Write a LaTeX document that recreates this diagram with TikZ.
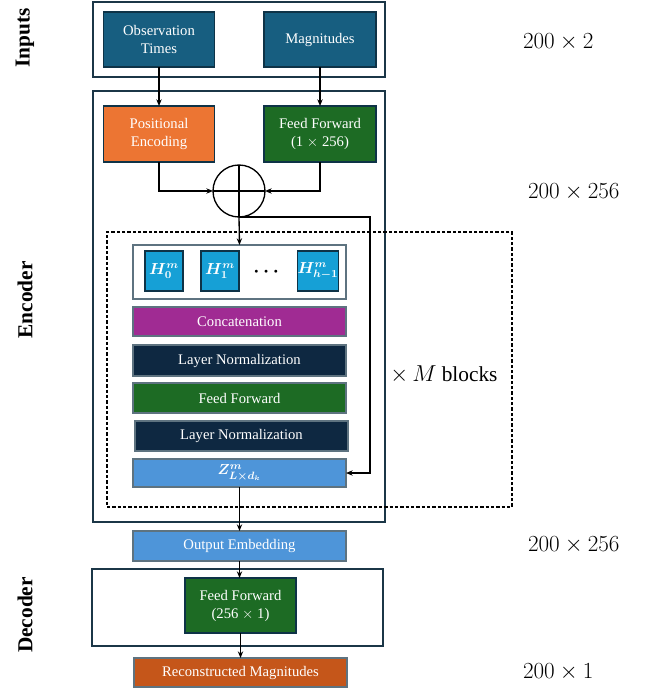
\documentclass[tikz,border=0pt]{standalone}
\usepackage{fontspec}
\setmainfont{Liberation Serif}
\usepackage{amsmath,bm}
\usetikzlibrary{arrows.meta,calc}
\definecolor{inblue}{HTML}{175E80}
\definecolor{inedge}{HTML}{0E3347}
\definecolor{peorange}{HTML}{EC7533}
\definecolor{ffgreen}{HTML}{1D6B24}
\definecolor{concpurple}{HTML}{A02B93}
\definecolor{lnnavy}{HTML}{0E2841}
\definecolor{hblue}{HTML}{16A0D6}
\definecolor{zblue}{HTML}{4E95D9}
\definecolor{recorange}{HTML}{C5561A}
\definecolor{frame}{HTML}{1B3647}
\definecolor{thin}{HTML}{5E7380}
\begin{document}
\begin{tikzpicture}[x=0.75pt,y=-0.75pt,
  every node/.style={inner sep=0pt, outer sep=0pt},
  outer/.style={draw=frame, line width=1.3pt, fill=white},
  blk/.style={draw=inedge, line width=0.8pt, text=white, align=center, font=\fontsize{11}{13.5}\selectfont},
  head/.style={blk, fill=hblue, minimum width=38*0.75pt, minimum height=40*0.75pt, font=\fontsize{11.5}{13}\selectfont},
  lbl/.style={font=\fontsize{16}{18}\selectfont\bfseries, rotate=90},
  dim/.style={font=\fontsize{17}{19}\selectfont, anchor=west},
  arr/.style={draw=black, line width=1pt, -{Stealth[length=5pt,width=4pt]}},
  ln/.style={draw=black, line width=1pt}
]
\useasboundingbox (0,0) rectangle (655,691);

% outer frames
\node[outer, minimum width=292*0.75pt, minimum height=75*0.75pt] (inputs) at (239,39.5) {};
\node[outer, minimum width=292*0.75pt, minimum height=431*0.75pt] (encoder) at (239,306.5) {};
\node[outer, minimum width=291*0.75pt, minimum height=77*0.75pt] (decoder) at (237.5,607.5) {};

% side labels
\node[lbl] (linputs) at (25,38) {Inputs};
\node[lbl] (lencoder) at (25,300) {Encoder};
\node[lbl] (ldecoder) at (25,615) {Decoder};

% input blocks
\node[blk, fill=inblue, minimum width=111*0.75pt, minimum height=55*0.75pt] (obs) at (159,39.5) {Observation\\Times};
\node[blk, fill=inblue, minimum width=112*0.75pt, minimum height=55*0.75pt] (mag) at (320,39.5) {Magnitudes};

% encoder blocks
\node[blk, fill=peorange, minimum width=111*0.75pt, minimum height=56*0.75pt] (pe) at (159,134) {Positional\\Encoding};
\node[blk, fill=ffgreen, minimum width=112*0.75pt, minimum height=56*0.75pt] (ff1) at (320,134) {Feed Forward\\(1 $\times$ 256)};
\node[circle, draw=black, line width=1pt, minimum size=52*0.75pt] (plus) at (239,191) {};
\draw[ln] (plus.north) -- (plus.south);
\draw[ln] (plus.west) -- (plus.east);

% dashed repeat box
\node[draw=black, line width=0.9pt, dash pattern=on 2.5pt off 1.5pt, minimum width=405*0.75pt, minimum height=275*0.75pt] (rep) at (309.5,369.5) {};
\node[font=\fontsize{16}{18}\selectfont] (mlabel) at (444,375) {$\times\, M$ blocks};

% attention heads
\node[draw=thin, line width=0.8pt, fill=white, minimum width=213*0.75pt, minimum height=54*0.75pt] (heads) at (239.5,272) {};
\node[head] (h0) at (164,271) {$\bm{H}^{\bm{m}}_{\bm{0}}$};
\node[head] (h1) at (220,271) {$\bm{H}^{\bm{m}}_{\bm{1}}$};
\node[font=\fontsize{14}{16}\selectfont] (dots) at (268,272) {$\bm{\cdots}$};
\node[head] (hh) at (318,271) {$\bm{H}^{\bm{m}}_{\bm{h-1}}$};

\node[blk, draw=thin, fill=concpurple, minimum width=213*0.75pt, minimum height=29*0.75pt] (concat) at (239.5,321.5) {Concatenation};
\node[blk, draw=thin, fill=lnnavy, minimum width=213*0.75pt, minimum height=31*0.75pt] (ln1) at (239.5,360.5) {Layer Normalization};
\node[blk, draw=thin, fill=ffgreen, minimum width=213*0.75pt, minimum height=30*0.75pt] (ff2) at (239.5,398) {Feed Forward};
\node[blk, draw=thin, fill=lnnavy, minimum width=213*0.75pt, minimum height=30*0.75pt] (ln2) at (241.5,436) {Layer Normalization};
\node[blk, draw=thin, fill=zblue, minimum width=213*0.75pt, minimum height=28*0.75pt, font=\fontsize{11}{13}\selectfont] (z) at (239.5,473) {$\bm{Z}^{\bm{m}}_{\bm{L\times d_k}}$};

% decoder part
\node[blk, draw=thin, fill=zblue, minimum width=213*0.75pt, minimum height=30*0.75pt] (outemb) at (239.5,546) {Output Embedding};
\node[blk, fill=ffgreen, minimum width=111*0.75pt, minimum height=55*0.75pt] (ff3) at (240.5,605.5) {Feed Forward\\(256 $\times$ 1)};
\node[blk, draw=thin, fill=recorange, minimum width=213*0.75pt, minimum height=29*0.75pt] (recon) at (240.5,672.5) {Reconstructed Magnitudes};

% dimension labels
\node[dim] (d1) at (523,42) {$200 \times 2$};
\node[dim] (d2) at (528,192) {$200 \times 256$};
\node[dim] (d3) at (528,545) {$200 \times 256$};
\node[dim] (d4) at (523,672) {$200 \times 1$};

% connectors
\coordinate (res) at (370,0);
\draw[arr] (obs) -- (pe);
\draw[arr] (mag) -- (ff1);
\draw[arr] (pe.south) |- (plus.west);
\draw[arr] (ff1.south) |- (plus.east);
\draw[arr] (plus.south) -- (heads.north);
\draw[arr] (plus.south) -- (plus.south -| res) |- (z.east);
\draw[arr] (z.south) -- (outemb.north);
\draw[arr] (outemb.south) -- (outemb.south |- ff3.north);
\draw[arr] (ff3.south) -- (ff3.south |- recon.north);
\end{tikzpicture}
\end{document}
